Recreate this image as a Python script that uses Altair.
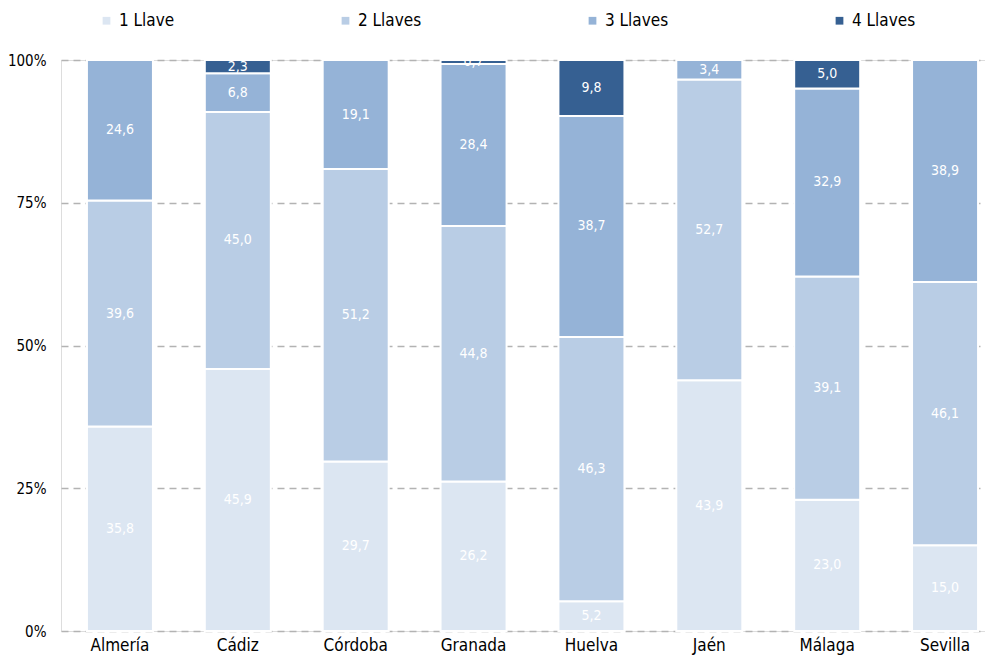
import altair as alt
import pandas as pd

provincias = ["Almería", "Cádiz", "Córdoba", "Granada", "Huelva", "Jaén", "Málaga", "Sevilla"]
series = ["1 Llave", "2 Llaves", "3 Llaves", "4 Llaves"]
llave1 = [35.8, 45.9, 29.7, 26.2, 5.2, 43.9, 23.0, 15.0]
llave2 = [39.6, 45.0, 51.2, 44.8, 46.3, 52.7, 39.1, 46.1]
llave3 = [24.6, 6.8, 19.1, 28.4, 38.7, 3.4, 32.9, 38.9]
llave4 = [0.0, 2.3, 0.0, 0.7, 9.8, 0.0, 5.0, 0.0]
colores = ["#dce6f2", "#b9cde5", "#95b3d7", "#366092"]

rows = []
for si, (s, vals) in enumerate(zip(series, [llave1, llave2, llave3, llave4])):
    for p, v in zip(provincias, vals):
        rows.append({"prov": p, "serie": s, "ord": si, "value": v,
                     "label": f"{v:.1f}".replace(".", ",")})
df = pd.DataFrame(rows)

FONT = "Liberation Sans Narrow, DejaVu Sans Condensed, Roboto Condensed, Arial Narrow, sans-serif"

base = alt.Chart(df).transform_stack(
    stack="value", groupby=["prov"], sort=[alt.SortField("ord", "ascending")],
    as_=["y0", "y1"], offset="normalize"
).transform_calculate(mid="(datum.y0 + datum.y1) / 2")

xscale = alt.Scale(range=[0, 943], paddingInner=0.44, paddingOuter=0.22)

xenc = alt.X("prov:N", sort=provincias, title=None, scale=xscale,
             axis=alt.Axis(labelAngle=0, labelFontSize=17, labelColor="#000000",
                           labelFont=FONT, labelPadding=6, ticks=False, domain=False))

bars = base.mark_bar(stroke="white", strokeWidth=2).encode(
    x=xenc,
    y=alt.Y("y0:Q", title=None, scale=alt.Scale(domain=[0, 1]),
            axis=alt.Axis(format="%", values=[0, 0.25, 0.5, 0.75, 1], labelFontSize=15,
                          labelColor="#000000", labelFont=FONT, labelPadding=15,
                          domain=False, ticks=False, grid=True, gridColor="#b3b3b3",
                          gridDash=[7, 5], gridWidth=1.6)),
    y2="y1:Q",
    color=alt.Color("serie:N", scale=alt.Scale(domain=series, range=colores),
                    legend=alt.Legend(title=None, orient="none", legendX=37, legendY=-48,
                                      direction="horizontal", columns=4, columnPadding=162,
                                      symbolType="square", symbolSize=60, symbolStrokeWidth=0,
                                      labelFontSize=17, labelFont=FONT, labelColor="#000000",
                                      labelOffset=4)),
    order=alt.Order("ord:Q"),
)

texts = base.transform_filter("datum.value > 0").mark_text(
    color="white", fontSize=14, font=FONT, baseline="middle"
).encode(
    x=alt.X("prov:N", sort=provincias, scale=xscale),
    y="mid:Q",
    text="label:N",
)

chart = alt.layer(bars, texts).properties(
    width=924, height=571,
    autosize=alt.AutoSizeParams(type="none"),
    padding={"left": 53, "top": 52, "right": 0, "bottom": 25},
).configure_view(stroke=None).configure(background="white")

chart.save("out.html", embed_options={"renderer": "svg", "actions": False})
